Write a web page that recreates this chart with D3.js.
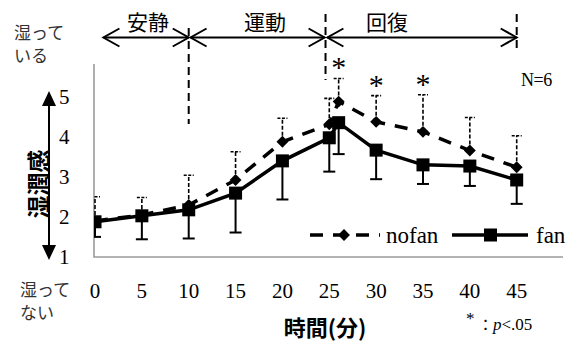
<!DOCTYPE html>
<html>
<head>
<meta charset="utf-8">
<script src="https://cdn.jsdelivr.net/npm/d3@7"></script>
<style>
body{margin:0;background:#fff;}
svg{display:block;}
</style>
</head>
<body>
<svg id="chart" width="579" height="345"></svg>
<script>
//--------------------- data
let times=[0,5,10,15,20,25,26,30,35,40,45];
let fanMean=[1.86,2.01,2.16,2.58,3.39,3.97,4.35,3.66,3.29,3.26,2.91];
let fanSD=[0.38,0.59,0.72,0.99,0.97,0.85,0.79,0.73,0.48,0.50,0.60];
let nofanMean=[1.88,2.03,2.28,2.91,3.87,4.31,4.88,4.37,4.12,3.65,3.23];
let nofanSD=[0.61,0.44,0.75,0.71,0.59,0.65,0.58,0.66,0.93,0.83,0.79];
let xTicks=[0,5,10,15,20,25,30,35,40,45];
let yTicks=[1,2,3,4,5];
let phases=["安静","運動","回復"];
let phaseStart=[0.9,10.2,24.8];
let phaseEnd=[10,24.5,45];
let dividers=[10,24.6,45];
let starTimes=[26,30,35];

const SERIF='"Liberation Serif","Times New Roman",serif';
const JP='"Noto Sans CJK JP",sans-serif';

let svg=d3.select("#chart");

// scales
let x=d3.scaleLinear().domain([0,45]).range([95,516.7]);
let y=d3.scaleLinear().domain([1,5]).range([256,96.8]);

// plot frame (left + bottom, gray)
svg.append("path")
    .attr("d","M94,64V257H563")
    .attr("fill","none").attr("stroke","#9a9a9a").attr("stroke-width",1.6);

// big y arrow
let ay=svg.append("g");
ay.append("text").attr("font-family",JP)
    .attr("transform","translate(39,184) rotate(-90)")
    .attr("text-anchor","middle").attr("dy","0.36em")
    .attr("font-size",23).attr("font-weight","bold").text("湿潤感");
ay.append("line").attr("x1",49).attr("x2",49).attr("y1",95).attr("y2",256)
    .attr("stroke","#000").attr("stroke-width",2);
ay.append("path").attr("d","M49,91L56,106H42Z");
ay.append("path").attr("d","M49,260L56,245H42Z");

// y tick labels
svg.append("g").selectAll("text").data(yTicks).enter().append("text")
    .attr("font-family",SERIF).attr("x",59).attr("y",d=>y(d)).attr("dy","0.36em")
    .attr("font-size",21).text(d=>d);

// x tick labels
svg.append("g").selectAll("text").data(xTicks).enter().append("text")
    .attr("font-family",SERIF).attr("x",d=>x(d)).attr("y",290).attr("dy","0.36em")
    .attr("text-anchor","middle").attr("font-size",21).text(d=>d);

// side notes
let note=[["湿って",14,33],["いる",14,56],["湿って",20,290],["ない",20,313]];
svg.append("g").selectAll("text").data(note).enter().append("text")
    .attr("font-family",JP).attr("x",d=>d[1]).attr("y",d=>d[2]).attr("dy","0.36em")
    .attr("font-size",17).attr("fill","#333").text(d=>d[0]);

// phase dividers
svg.append("g").selectAll("line").data(dividers).enter().append("line")
    .attr("x1",d=>x(d)).attr("x2",d=>x(d))
    .attr("y1",(d,i)=>i==0?28:14)
    .attr("y2",(d,i)=>[124,80,53][i])
    .attr("stroke","#000").attr("stroke-width",2).attr("stroke-dasharray","8,5");

// phase arrows
let arrowY=37.5;
let ph=svg.append("g");
phases.forEach((p,i)=>{
    let x1=x(phaseStart[i]), x2=x(phaseEnd[i]);
    ph.append("line").attr("x1",x1).attr("x2",x2).attr("y1",arrowY).attr("y2",arrowY)
        .attr("stroke","#000").attr("stroke-width",2);
    ph.append("path")
        .attr("d","M"+(x1+16)+","+(arrowY-9)+"L"+x1+","+arrowY+"L"+(x1+16)+","+(arrowY+9)
            +"M"+(x2-16)+","+(arrowY-9)+"L"+x2+","+arrowY+"L"+(x2-16)+","+(arrowY+9))
        .attr("fill","none").attr("stroke","#000").attr("stroke-width",2);
    ph.append("text").attr("font-family",JP)
        .attr("x",[148,265,387][i]).attr("y",22).attr("dy","0.36em")
        .attr("text-anchor","middle").attr("font-size",21).text(p);
});

// clip so caps don't cross the left axis
svg.append("clipPath").attr("id","plotclip")
    .append("rect").attr("x",94).attr("y",0).attr("width",480).attr("height",300);
let plot=svg.append("g").attr("clip-path","url(#plotclip)");

let rows=times.map((t,i)=>({t:t,fm:fanMean[i],fs:fanSD[i],nm:nofanMean[i],ns:nofanSD[i]}));

// nofan error bars (up, dashed)
let eb1=plot.append("g").attr("stroke","#000").attr("stroke-width",1.6);
eb1.selectAll("line.v").data(rows).enter().append("line")
    .attr("x1",d=>x(d.t)).attr("x2",d=>x(d.t))
    .attr("y1",d=>y(d.nm)).attr("y2",d=>y(d.nm+d.ns))
    .attr("stroke-dasharray","4,2");
eb1.selectAll("line.c").data(rows).enter().append("line")
    .attr("x1",d=>x(d.t)-5).attr("x2",d=>x(d.t)+5)
    .attr("y1",d=>y(d.nm+d.ns)).attr("y2",d=>y(d.nm+d.ns))
    .attr("stroke-dasharray","3,1.5");

// fan error bars (down, solid)
let eb2=plot.append("g").attr("stroke","#000").attr("stroke-width",2);
eb2.selectAll("line.v").data(rows).enter().append("line")
    .attr("x1",d=>x(d.t)).attr("x2",d=>x(d.t))
    .attr("y1",d=>y(d.fm)).attr("y2",d=>y(d.fm-d.fs));
eb2.selectAll("line.c").data(rows).enter().append("line")
    .attr("x1",d=>x(d.t)-6).attr("x2",d=>x(d.t)+6)
    .attr("y1",d=>y(d.fm-d.fs)).attr("y2",d=>y(d.fm-d.fs));

// nofan line + diamonds
let nofanLine=d3.line().x(d=>x(d.t)).y(d=>y(d.nm));
plot.append("path").datum(rows).attr("d",nofanLine)
    .attr("fill","none").attr("stroke","#000").attr("stroke-width",3.5)
    .attr("stroke-dasharray","13,10");
let diamond=d3.symbol().type(d3.symbolDiamond2).size(90);
plot.append("g").selectAll("path").data(rows).enter().append("path")
    .attr("d",diamond).attr("transform",d=>"translate("+x(d.t)+","+y(d.nm)+")");

// fan line + squares
let fanLine=d3.line().x(d=>x(d.t)).y(d=>y(d.fm));
plot.append("path").datum(rows).attr("d",fanLine)
    .attr("fill","none").attr("stroke","#000").attr("stroke-width",3.5);
plot.append("g").selectAll("rect").data(rows).enter().append("rect")
    .attr("x",d=>x(d.t)-6.5).attr("y",d=>y(d.fm)-6.5)
    .attr("width",13).attr("height",13);

// significance stars
svg.append("g").selectAll("text").data(starTimes).enter().append("text")
    .attr("font-family",SERIF)
    .attr("x",d=>x(d))
    .attr("y",d=>y(nofanMean[times.indexOf(d)]+nofanSD[times.indexOf(d)])-22)
    .attr("dy","0.7em").attr("text-anchor","middle")
    .attr("font-size",30).text("*");

// N=6
svg.append("text").attr("font-family",SERIF).attr("x",521).attr("y",80).attr("dy","0.36em")
    .attr("font-size",18).attr("letter-spacing","-0.5").text("N=6");

// legend
let lg=svg.append("g");
lg.append("line").attr("x1",310).attr("x2",380).attr("y1",235).attr("y2",235)
    .attr("stroke","#000").attr("stroke-width",3.5).attr("stroke-dasharray","13,10");
lg.append("path").attr("d",diamond).attr("transform","translate(344,235)");
lg.append("text").attr("font-family",SERIF).attr("x",386).attr("y",235).attr("dy","0.33em")
    .attr("font-size",23).text("nofan");
lg.append("line").attr("x1",452).attr("x2",528).attr("y1",235).attr("y2",235)
    .attr("stroke","#000").attr("stroke-width",3.5);
lg.append("rect").attr("x",484).attr("y",228.5).attr("width",13).attr("height",13);
lg.append("text").attr("font-family",SERIF).attr("x",536).attr("y",235).attr("dy","0.33em")
    .attr("font-size",23).text("fan");

// x axis title
svg.append("text").attr("font-family",JP).attr("x",325).attr("y",328).attr("dy","0.36em")
    .attr("text-anchor","middle").attr("font-size",22).attr("font-weight","bold").text("時間(分)");

// p note (star raised a bit)
svg.append("text").attr("font-family",SERIF).attr("x",466).attr("y",318).attr("dy","0.36em")
    .attr("font-size",17).text("*");
let pn=svg.append("text").attr("font-family",SERIF).attr("x",478).attr("y",324).attr("dy","0.36em")
    .attr("font-size",17);
pn.append("tspan").attr("font-family",JP).attr("font-size",15).text("：");
pn.append("tspan").attr("font-style","italic").text("p");
pn.append("tspan").text("<.05");
</script>
</body>
</html>
